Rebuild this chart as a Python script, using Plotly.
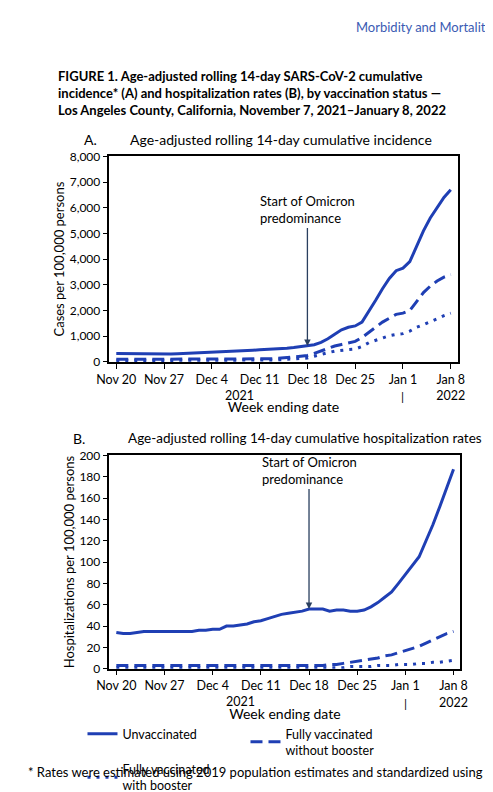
import pandas as pd
import plotly.graph_objects as go

dates = pd.date_range("2021-11-20", "2022-01-08", freq="D")

# Panel A: cases per 100,000
cases_unvax = [330, 325, 320, 315, 310, 305, 300,
               300, 310, 320, 330, 340, 350, 360,
               370, 380, 395, 410, 425, 440, 455,
               470, 480, 490, 505, 530, 560, 590,
               620, 670, 760, 900, 1080, 1250, 1350,
               1400, 1550, 1950, 2400, 2850, 3250, 3550,
               3650, 3900, 4500, 5100, 5600, 6000, 6400, 6700]
cases_nobooster = [100, 100, 100, 95, 95, 95, 95,
                   95, 95, 95, 100, 100, 100, 100,
                   100, 100, 105, 105, 110, 110, 115,
                   115, 120, 125, 140, 160, 190, 220,
                   250, 330, 430, 530, 620, 680, 740,
                   800, 950, 1150, 1350, 1550, 1700, 1850,
                   1900, 2000, 2350, 2700, 2950, 3150, 3300, 3400]
cases_booster = [50, 50, 50, 50, 50, 50, 50,
                 50, 50, 50, 50, 50, 50, 50,
                 50, 50, 55, 55, 60, 60, 65,
                 65, 70, 75, 85, 100, 115, 130,
                 150, 220, 300, 360, 420, 460, 480,
                 500, 600, 750, 850, 950, 1020, 1070,
                 1100, 1200, 1350, 1450, 1550, 1680, 1800, 1900]

# Panel B: hospitalizations per 100,000
hosp_unvax = [34, 33, 33, 34, 35, 35, 35,
              35, 35, 35, 35, 35, 36, 36,
              37, 37, 40, 40, 41, 42, 44,
              45, 47, 49, 51, 52, 53, 54,
              56, 56, 56, 54, 55, 55, 54,
              54, 55, 58, 62, 67, 72, 80,
              88, 96, 105, 120, 135, 152, 170, 187]
hosp_nobooster = [3] * 28 + [3, 3, 3, 4, 4, 5, 6,
                             7, 8, 9, 10, 12, 13, 15,
                             17, 19, 21, 24, 27, 30, 33, 35]
hosp_booster = [1] * 28 + [1, 1, 1, 1, 1, 1, 2,
                           2, 2, 2, 3, 3, 3, 4,
                           4, 4, 5, 5, 6, 6, 7, 8]

tick_dates = ["2021-11-20", "2021-11-27", "2021-12-04", "2021-12-11",
              "2021-12-18", "2021-12-25", "2022-01-01", "2022-01-08"]
tick_text = ["Nov 20", "Nov 27", "Dec 4", "Dec 11", "Dec 18", "Dec 25", "Jan 1", "Jan 8<br>2022"]

BLUE = "#1f3fb4"
FONT = "Lato"
names = ["Unvaccinated", "Fully vaccinated<br>without booster", "Fully vaccinated<br>with booster"]
dashes = ["solid", "12px,6px", "3px,6px"]

fig = go.Figure()
for i, ys in enumerate([cases_unvax, cases_nobooster, cases_booster]):
    fig.add_trace(go.Scatter(x=dates, y=ys, mode="lines", name=names[i],
                             line=dict(color=BLUE, width=3, dash=dashes[i]),
                             xaxis="x", yaxis="y"))
for i, ys in enumerate([hosp_unvax, hosp_nobooster, hosp_booster]):
    fig.add_trace(go.Scatter(x=dates, y=ys, mode="lines", name=names[i], showlegend=False,
                             line=dict(color=BLUE, width=3, dash=dashes[i]),
                             xaxis="x2", yaxis="y2"))

xcommon = dict(type="date", range=["2021-11-19", "2022-01-09"], tickvals=tick_dates,
               ticktext=tick_text, ticks="outside", ticklen=5, tickcolor="black",
               showline=True, linecolor="black", linewidth=1.5, mirror=True,
               showgrid=False, zeroline=False, tickfont=dict(size=12.5, color="black"),
               title=dict(text="Week ending date", font=dict(size=14, color="black"), standoff=0))
ycommon = dict(ticks="outside", ticklen=5, tickcolor="black", showline=True,
               linecolor="black", linewidth=1.5, mirror=True, showgrid=False,
               zeroline=False, tickfont=dict(size=12, color="black"))

fig.update_layout(
    width=493, height=792, margin=dict(l=0, r=0, t=0, b=0),
    paper_bgcolor="white", plot_bgcolor="white",
    font=dict(family=FONT, color="black"),
    xaxis=dict(domain=[0.187, 0.923], anchor="y", **xcommon),
    yaxis=dict(domain=[0.549, 0.817], anchor="x", range=[0, 8000], dtick=1000,
               tickformat=",", title=dict(text="Cases per 100,000 persons", font=dict(size=13), standoff=2),
               **ycommon),
    xaxis2=dict(domain=[0.187, 0.929], anchor="y2", **xcommon),
    yaxis2=dict(domain=[0.149, 0.427], anchor="x2", range=[0, 200], dtick=20,
                title=dict(text="Hospitalizations per 100,000 persons", font=dict(size=13), standoff=2),
                **ycommon),
    legend=dict(orientation="h", x=0.13, y=0.083, xanchor="left", yanchor="top",
                font=dict(size=12.5), entrywidth=118, itemwidth=30, tracegroupgap=0),
)

ann = [
    dict(x=1, y=0.999, text="Morbidity and Mortality", xanchor="right", yanchor="top",
         font=dict(size=13, color="#3b5bb3")),
    dict(x=0.075, y=0.935, xanchor="left", yanchor="top", align="left",
         text="<b>FIGURE 1. Age-adjusted rolling 14-day SARS-CoV-2 cumulative<br>"
              "incidence* (A) and hospitalization rates (B), by vaccination status —<br>"
              "Los Angeles County, California, November 7, 2021–January 8, 2022</b>",
         font=dict(size=13)),
    dict(x=0.13, y=0.853, xanchor="left", yanchor="top", text="A.", font=dict(size=14)),
    dict(x=0.55, y=0.853, xanchor="center", yanchor="top",
         text="Age-adjusted rolling 14-day cumulative incidence", font=dict(size=14)),
    dict(x=0.105, y=0.463, xanchor="left", yanchor="top", text="B.", font=dict(size=14)),
    dict(x=0.6, y=0.463, xanchor="center", yanchor="top",
         text="Age-adjusted rolling 14-day cumulative hospitalization rates", font=dict(size=13.5)),
    dict(x=0.01, y=0.001, xanchor="left", yanchor="bottom",
         text="* Rates were estimated using 2019 population estimates and standardized using",
         font=dict(size=13)),
]
for xr, yr in [("x", "y"), ("x2", "y2")]:
    ydom = 0.549 if xr == "x" else 0.149
    ann.append(dict(x="2021-12-08", xref=xr, y=ydom - 0.031, yref="paper", text="2021",
                    showarrow=False, yanchor="top", font=dict(size=12.5)))
    ann.append(dict(x="2022-01-01", xref=xr, y=ydom - 0.033, yref="paper", text="|",
                    showarrow=False, yanchor="top", font=dict(size=12)))
ann.append(dict(x="2021-12-18", y=620, xref="x", yref="y", text="Start of Omicron<br>predominance",
                showarrow=True, arrowhead=2, arrowsize=1, arrowwidth=1.3, ax=0, ay=-118,
                align="left", xanchor="center", yanchor="bottom", font=dict(size=13)))
ann.append(dict(x="2021-12-18", y=56, xref="x2", yref="y2", text="Start of Omicron<br>predominance",
                showarrow=True, arrowhead=2, arrowsize=1, arrowwidth=1.3, ax=0, ay=-120,
                align="left", xanchor="center", yanchor="bottom", font=dict(size=13)))
for a in ann:
    a.setdefault("xref", "paper")
    a.setdefault("yref", "paper")
    a.setdefault("showarrow", False)
fig.update_layout(annotations=ann)

fig.write_html("out.html")
